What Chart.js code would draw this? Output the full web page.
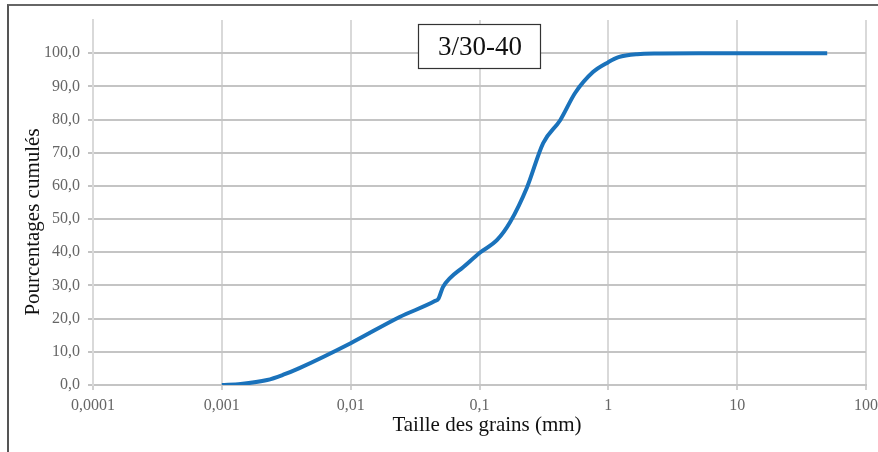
<!DOCTYPE html>
<html>
<head>
<meta charset="utf-8">
<script src="https://cdn.jsdelivr.net/npm/chart.js@4/dist/chart.umd.min.js"></script>
<style>
  body { margin: 0; background: #fff; }
  #wrap { position: relative; width: 878px; height: 452px; }
  #frame {
    position: absolute; left: 7px; top: 4px; right: 0; bottom: 0;
    border-left: 2px solid #555; border-top: 2px solid #666;
    pointer-events: none;
  }
</style>
</head>
<body>
<div id="wrap">
  <canvas id="grainChart" width="878" height="452"></canvas>
  <div id="frame"></div>
</div>
<script>
// grain size (mm) and cumulative percentage passing
const sizes = [0.001, 0.0014, 0.00225, 0.003, 0.004, 0.01, 0.024, 0.045, 0.048, 0.052, 0.059, 0.0746, 0.1, 0.137, 0.173, 0.234, 0.312, 0.423, 0.552, 0.76, 1.0, 1.2, 1.67, 2.5, 5, 50];
const cumulative = [0, 0.3, 1.5, 3.1, 5.1, 12.6, 20.5, 25.3, 26, 29.5, 32.2, 35.5, 39.8, 43.7, 49.1, 59.6, 72.9, 79.8, 88, 94.3, 97.3, 98.8, 99.7, 99.9, 100, 100];

const xTickValues = [0.0001, 0.001, 0.01, 0.1, 1, 10, 100];
const xTickLabels = ["0,0001", "0,001", "0,01", "0,1", "1", "10", "100"];
const yTickValues = [0, 10, 20, 30, 40, 50, 60, 70, 80, 90, 100];
const yTickLabels = ["0,0", "10,0", "20,0", "30,0", "40,0", "50,0", "60,0", "70,0", "80,0", "90,0", "100,0"];

const sampleName = "3/30-40";
const xTitle = "Taille des grains (mm)";
const yTitle = "Pourcentages cumulés";

const serif = "'Liberation Serif', 'DejaVu Serif', serif";

// axis titles and the sample label box
const annotations = {
  id: "annotations",
  afterDraw(chart) {
    const ctx = chart.ctx;
    ctx.save();
    ctx.fillStyle = "#111";
    ctx.textAlign = "center";
    ctx.textBaseline = "middle";
    ctx.font = "21px " + serif;
    ctx.fillText(xTitle, 487, 425);

    ctx.save();
    ctx.translate(33, 222);
    ctx.rotate(-Math.PI / 2);
    ctx.fillText(yTitle, 0, 0);
    ctx.restore();

    ctx.fillStyle = "#fff";
    ctx.fillRect(418, 24, 123, 45);
    ctx.strokeStyle = "#333";
    ctx.lineWidth = 1.2;
    ctx.strokeRect(418.5, 24.5, 122, 44);
    ctx.fillStyle = "#111";
    ctx.font = "27px " + serif;
    ctx.fillText(sampleName, 480, 48);
    ctx.restore();
  }
};

new Chart(document.getElementById("grainChart"), {
  type: "line",
  data: {
    datasets: [{
      data: sizes.map((s, i) => ({ x: s, y: cumulative[i] })),
      borderColor: "#1a72bb",
      borderWidth: 4,
      pointRadius: 0,
      fill: false,
      cubicInterpolationMode: "monotone"
    }]
  },
  options: {
    responsive: false,
    animation: false,
    layout: { padding: { left: 0, right: 12, top: 20, bottom: 0 } },
    plugins: { legend: { display: false }, tooltip: { enabled: false } },
    scales: {
      x: {
        type: "logarithmic",
        min: 0.0001,
        max: 100,
        afterBuildTicks: scale => { scale.ticks = xTickValues.map(v => ({ value: v })); },
        // let the last label run off the edge instead of shrinking the plot
        afterFit: scale => { scale.height = 67; scale.paddingRight = 0; },
        ticks: {
          autoSkip: false,
          maxRotation: 0,
          padding: 6,
          color: "#666",
          font: { family: serif, size: 16 },
          callback: (v, i) => xTickLabels[i]
        },
        grid: { color: "#d9d9d9", lineWidth: 2, tickLength: 5, tickColor: "#d0d0d0" },
        border: { color: "#c4c4c4", width: 2 }
      },
      y: {
        min: 0,
        max: 110,
        afterBuildTicks: scale => { scale.ticks = yTickValues.map(v => ({ value: v })); },
        afterFit: scale => { scale.width = 93; },
        ticks: {
          padding: 8,
          color: "#666",
          font: { family: serif, size: 16 },
          callback: (v, i) => yTickLabels[i]
        },
        grid: { color: "#c4c4c4", lineWidth: 2, tickLength: 5, tickColor: "#c4c4c4" },
        border: { color: "#d9d9d9", width: 2 }
      }
    }
  },
  plugins: [annotations]
});
</script>
</body>
</html>
